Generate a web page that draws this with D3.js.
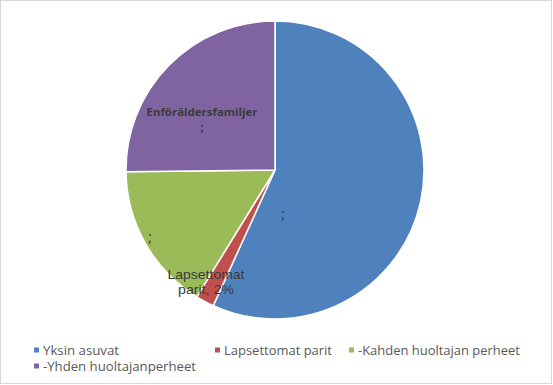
<!DOCTYPE html>
<html><head><meta charset="utf-8">
<script src="https://cdn.jsdelivr.net/npm/d3@7"></script>
<style>html,body{margin:0;padding:0;background:#fff;}svg{display:block;}</style>
</head><body>
<svg id="c" width="553" height="385"></svg>
<script>
const categories = ["Yksin asuvat", "Lapsettomat parit", "-Kahden huoltajan perheet", "-Yhden huoltajanperheet"];
const values = [56.8, 2.0, 16.0, 25.2];
const colors = ["#4F81BD", "#C0504D", "#9BBB59", "#8064A2"];
const sliceLabels = [[";"], ["Lapsettomat", "parit, 2%"], [";"], ["Enföräldersfamiljer", ";"]];

const svg = d3.select("#c");
svg.append("rect").attr("x", 0.5).attr("y", 0.5).attr("width", 551).attr("height", 383)
  .attr("fill", "#fff").attr("stroke", "#d9d9d9").attr("stroke-width", 1);

const cx = 275, cy = 170, R = 149;
const g = svg.append("g").attr("transform", `translate(${cx},${cy})`);
const pie = d3.pie().sort(null).value(d => d);
const arcs = pie(values);
const arc = d3.arc().innerRadius(0).outerRadius(R);
g.selectAll("path").data(arcs).enter().append("path")
  .attr("d", arc).attr("fill", (d, i) => colors[i])
  .attr("stroke", "#fff").attr("stroke-width", 1.5).attr("stroke-linejoin", "round");

// label placement (offsets from pie center) and style
const labelLayout = [
  {dx: 8, dy: 49, size: 14, weight: "normal", lh: 14, font: "'Open Sans', sans-serif"},
  {dx: -69, dy: 109, size: 13, weight: "normal", lh: 14.8, widths: [77, 56], font: "'Liberation Sans', Arial, sans-serif"},
  {dx: -125, dy: 72, size: 14, weight: "normal", lh: 14, font: "'Open Sans', sans-serif"},
  {dx: -73, dy: -54, size: 11, weight: "bold", lh: 15, widths: [111], font: "'Open Sans', sans-serif"}
];
sliceLabels.forEach((lines, i) => {
  const L = labelLayout[i];
  lines.forEach((t, j) => {
    const el = g.append("text")
      .attr("x", L.dx).attr("y", L.dy + j * L.lh)
      .attr("text-anchor", "middle")
      .attr("font-family", L.font)
      .attr("font-size", L.size).attr("font-weight", L.weight)
      .attr("fill", "#3a3a3a").text(t);
    if (L.widths && L.widths[j]) el.attr("textLength", L.widths[j]).attr("lengthAdjust", "spacingAndGlyphs");
  });
});

// legend
const legendPos = [[34, 350], [215, 350], [349, 350], [34, 366]];
const legendWidths = [76, 108, 162, 153];
const lg = svg.append("g");
categories.forEach((c, i) => {
  const [x, y] = legendPos[i];
  lg.append("rect").attr("x", x).attr("y", y - 2.5).attr("width", 5).attr("height", 5).attr("fill", colors[i]);
  lg.append("text").attr("x", x + 9).attr("y", y + 4.5)
    .attr("font-family", "'Open Sans', 'Noto Sans', sans-serif").attr("font-size", 12.5)
    .attr("fill", "#595959").attr("textLength", legendWidths[i]).attr("lengthAdjust", "spacingAndGlyphs")
    .text(c);
});
</script>
</body></html>
